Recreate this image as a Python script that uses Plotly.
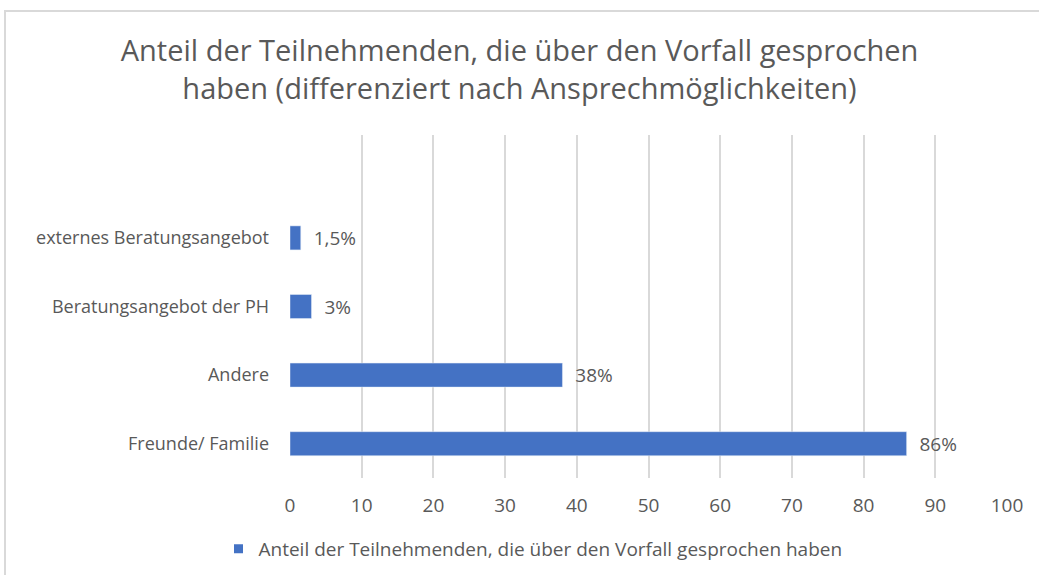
import plotly.graph_objects as go

# data (bottom to top, as in the chart)
categories = ["Freunde/ Familie", "Andere", "Beratungsangebot der PH", "externes Beratungsangebot"]
values = [86, 38, 3, 1.5]
value_labels = ["86%", "38%", "3%", "1,5%"]
series_name = "Anteil der Teilnehmenden, die über den Vorfall gesprochen haben"
x_ticks = [0, 10, 20, 30, 40, 50, 60, 70, 80, 90, 100]

gray_text = "#595959"
bar_color = "#4472C4"
label_font = "Open Sans, Noto Sans, sans-serif"

fig = go.Figure()
fig.add_trace(go.Bar(
    x=values,
    y=list(range(len(categories))),
    orientation="h",
    name=series_name,
    marker=dict(color=bar_color),
    width=0.35,
    text=value_labels,
    texttemplate="  %{text}",
    textposition="outside",
    constraintext="none",
    textfont=dict(family=label_font, size=19, color=gray_text),
    cliponaxis=False,
    showlegend=False,
))
# legend entry with a small square swatch like the original
fig.add_trace(go.Scatter(
    x=[None], y=[None], mode="markers", name=series_name,
    marker=dict(symbol="square", size=9, color=bar_color),
))

# plot area in pixels: x 290..1007, y 135..478
L, R, T, B = 290, 32, 135, 97
pw, ph = 1039 - L - R, 575 - T - B
bottom = 575 - B

fig.update_layout(
    width=1039, height=575,
    margin=dict(l=L, r=R, t=T, b=B, autoexpand=False),
    paper_bgcolor="white",
    plot_bgcolor="white",
    title=dict(
        text="Anteil der Teilnehmenden, die über den Vorfall gesprochen<br>haben (differenziert nach Ansprechmöglichkeiten)",
        x=0.5, xanchor="center",
        y=1 - 61 / 575, yanchor="middle",
        font=dict(family="Open Sans, sans-serif", size=29, color=gray_text),
    ),
    xaxis=dict(
        range=[0, 100],
        tickvals=x_ticks,
        showgrid=True, gridcolor="#d9d9d9", gridwidth=2,
        zeroline=False, showline=False,
        tickfont=dict(family=label_font, size=19, color=gray_text),
        ticks="", ticklabelstandoff=14,
    ),
    yaxis=dict(
        range=[-0.5, 4.5],
        tickvals=list(range(len(categories))),
        ticktext=categories,
        showgrid=False, zeroline=False, showline=False,
        tickfont=dict(family=label_font, size=18, color=gray_text),
        ticks="", ticklabelstandoff=20,
    ),
    legend=dict(
        orientation="h",
        xref="container", yref="container",
        x=533 / 1039, xanchor="center",
        y=1 - 549 / 575, yanchor="middle",
        font=dict(family=label_font, size=19, color=gray_text),
        itemwidth=30,
    ),
    shapes=[dict(
        type="rect", xref="paper", yref="paper",
        x0=(5 - L) / pw, x1=(1100 - L) / pw,
        y0=(bottom - 700) / ph, y1=(bottom - 11) / ph,
        line=dict(color="#d9d9d9", width=2),
        fillcolor="rgba(0,0,0,0)", layer="below",
    )],
)

fig.write_html("out.html", config={"displayModeBar": False},
               post_script="document.body.style.margin='0px';")
